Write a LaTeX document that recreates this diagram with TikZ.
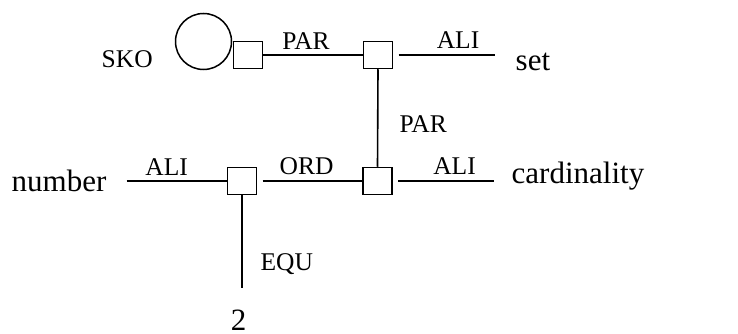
\documentclass[tikz,border=0pt]{standalone}
\usepackage{fontspec}
\setmainfont{Liberation Serif}
\usepackage{tikz}

\begin{document}
\begin{tikzpicture}[
  x=1pt, y=-1pt,
  rel/.style={rectangle, draw, line width=1.5pt, minimum width=29pt, minimum height=27pt, inner sep=0pt},
  concept/.style={circle, draw, line width=1.5pt, minimum size=56pt, inner sep=0pt},
  word/.style={inner sep=0pt, anchor=base west, font=\fontsize{31pt}{34pt}\selectfont},
  lbl/.style={inner sep=0pt, font=\fontsize{25.5pt}{28pt}\selectfont},
  link/.style={line width=1.6pt}
]
  \useasboundingbox (0,0) rectangle (738,334);

  \node[concept] (sko) at (203.5,41.5) {};
  \node[lbl, anchor=base west] (skolbl) at (101.5,67.3) {SKO};
  \node[rel] (parbox) at (248,55) {};
  \node[rel] (setbox) at (378,55) {};
  \node[rel] (cardbox) at (377.5,181) {};
  \node[rel] (numbox) at (242,181) {};

  \node[word] (set) at (515.5,71) {set};
  \node[word] (card) at (511.5,183.3) {cardinality};
  \node[word] (number) at (11.5,191) {number};
  \node[word, anchor=base] (two) at (238.7,330) {2};

  \draw[link] (parbox.east) -- node[lbl, above=5pt, pos=0.43] {PAR} (setbox.west);
  \draw[link, shorten <=5.4pt, shorten >=20.4pt] (setbox.east) -- node[lbl, above=5.3pt, pos=0.53] {ALI} (setbox.east -| set.west);
  \draw[link] (setbox.south) -- node[lbl, right=21pt, pos=0.56] {PAR} (cardbox.north);
  \draw[link, shorten <=5.4pt] (numbox.east) -- node[lbl, above=5pt, pos=0.47] {ORD} (cardbox.west);
  \draw[link, shorten <=5.6pt, shorten >=17.7pt] (cardbox.east) -- node[lbl, above=6pt, pos=0.52] {ALI} (cardbox.east -| card.west);
  \draw[link, shorten <=20pt] (numbox.west -| number.east) -- node[lbl, above=4.5pt, pos=0.5] {ALI} (numbox.west);
  \draw[link, shorten >=21pt] (numbox.south) -- node[lbl, right=17.8pt, pos=0.6] {EQU} (numbox.south |- two.north);
\end{tikzpicture}
\end{document}
